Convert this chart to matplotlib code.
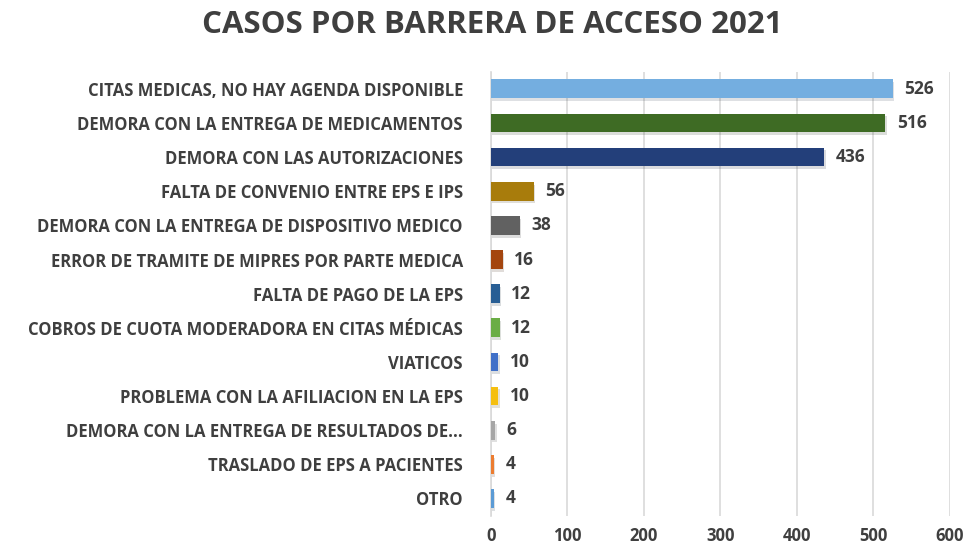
import matplotlib
matplotlib.use("Agg")
import matplotlib.pyplot as plt
import matplotlib.patheffects as pe

# --- Data ---
categories = [
    "CITAS MEDICAS, NO HAY AGENDA DISPONIBLE",
    "DEMORA CON LA ENTREGA DE MEDICAMENTOS",
    "DEMORA CON LAS AUTORIZACIONES",
    "FALTA DE CONVENIO ENTRE EPS E IPS",
    "DEMORA CON LA ENTREGA DE DISPOSITIVO MEDICO",
    "ERROR DE TRAMITE DE MIPRES POR PARTE MEDICA",
    "FALTA DE PAGO DE LA EPS",
    "COBROS DE CUOTA MODERADORA EN CITAS MÉDICAS",
    "VIATICOS",
    "PROBLEMA CON LA AFILIACION EN LA EPS",
    "DEMORA CON LA ENTREGA DE RESULTADOS DE...",
    "TRASLADO DE EPS A PACIENTES",
    "OTRO",
]
values = [526, 516, 436, 56, 38, 16, 12, 12, 10, 10, 6, 4, 4]
colors = ["#74aee0", "#3e6b24", "#233f7a", "#a87c0c", "#616161", "#a4460f",
          "#285e94", "#6aad45", "#4070c8", "#f5bf10", "#a6a6a6", "#ec7c30", "#5b9bd5"]
xticks = [0, 100, 200, 300, 400, 500, 600]

TEXT = "#3f3f3f"
plt.rcParams["font.family"] = ["Open Sans", "DejaVu Sans"]

fig = plt.figure(figsize=(9.66, 5.52), dpi=100)
ax = fig.add_axes([0.508, 0.066, 0.475, 0.804])

y = list(range(len(values)))
bars = ax.barh(y, values, height=0.55, color=colors, zorder=3)
for b in bars:
    b.set_path_effects([pe.SimplePatchShadow(offset=(1, -2), alpha=0.15), pe.Normal()])

for yi, v in zip(y, values):
    ax.text(v + 15, yi, str(v), va="center", ha="left", fontsize=12.5,
            fontweight="bold", color=TEXT)

ax.set_ylim(len(values) - 0.5, -0.5)
ax.set_xlim(0, 600)
ax.set_xticks(xticks)
ax.set_yticks(y)
ax.set_yticklabels(categories, fontsize=12, fontweight="bold", color=TEXT)
ax.tick_params(axis="y", length=0, pad=20)
ax.tick_params(axis="x", length=0, pad=8, labelsize=12, labelcolor=TEXT)
for lbl in ax.get_xticklabels():
    lbl.set_fontweight("bold")
ax.grid(axis="x", color="#d9d9d9", linewidth=1.2, zorder=0)
for s in ["top", "right", "bottom"]:
    ax.spines[s].set_visible(False)
ax.spines["left"].set_color("#d9d9d9")
ax.spines["left"].set_linewidth(1.2)

fig.text(0.51, 0.955, "CASOS POR BARRERA DE ACCESO 2021", ha="center", va="center",
         fontsize=22.5, fontweight="bold", color=TEXT)

fig.savefig("out.png", dpi=100)
